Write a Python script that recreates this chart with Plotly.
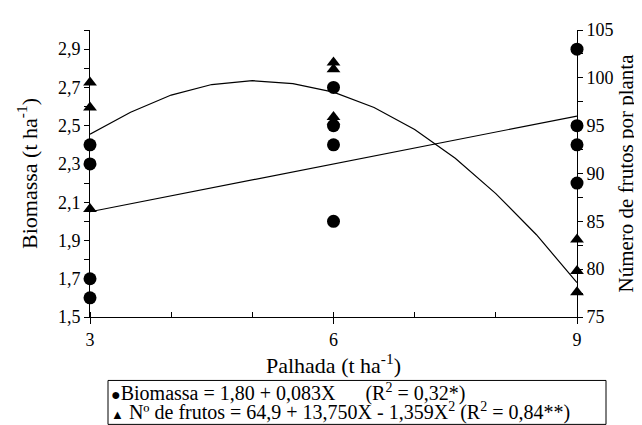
import plotly.graph_objects as go

# Biomassa (left axis, t/ha)
bio_x = [3, 3, 3, 3, 6, 6, 6, 6, 9, 9, 9, 9]
bio_y = [2.4, 2.3, 1.7, 1.6, 2.7, 2.5, 2.4, 2.0, 2.9, 2.5, 2.4, 2.2]
# Biomassa fitted line
bio_fit_x = [3, 9]
bio_fit_y = [2.05, 2.55]

# Numero de frutos (right axis)
fr_x = [3, 3, 3, 6, 6, 6, 6, 9, 9, 9]
fr_y = [99.5, 96.9, 86.3, 101.6, 100.9, 95.9, 95.4, 83.1, 79.8, 77.6]
# Frutos fitted curve
fr_fit_x = [3, 3.5, 4, 4.5, 5, 5.5, 6, 6.5, 7, 7.5, 8, 8.5, 9]
fr_fit_y = [94.1, 96.4, 98.2, 99.3, 99.7, 99.4, 98.5, 96.9, 94.6, 91.6, 87.9, 83.6, 78.6]

x_ticks = [3, 6, 9]

NB = "&nbsp;"
legend_lines = [
    '<span style="font-size:16px">●</span>Biomassa = 1,80 + 0,083X' + NB * 6 + "(R<sup>2</sup> = 0,32*)",
    '<span style="font-size:13px">▲</span> Nº de frutos = 64,9 + 13,750X - 1,359X<sup>2</sup> (R<sup>2</sup> = 0,84**)',
]

FONT = "Times New Roman, Liberation Serif, serif"
TICKF = dict(family=FONT, size=18, color="black")
TITLEF = dict(family=FONT, size=22, color="black")

fig = go.Figure()
fig.add_trace(go.Scatter(x=bio_fit_x, y=bio_fit_y, mode="lines",
                         line=dict(color="black", width=1.2), yaxis="y"))
fig.add_trace(go.Scatter(x=fr_fit_x, y=fr_fit_y, mode="lines",
                         line=dict(color="black", width=1.2), yaxis="y2"))
fig.add_trace(go.Scatter(x=bio_x, y=bio_y, mode="markers", cliponaxis=False,
                         marker=dict(symbol="circle", size=13, color="black"), yaxis="y"))
fig.add_trace(go.Scatter(x=fr_x, y=fr_y, mode="markers", cliponaxis=False,
                         marker=dict(symbol="triangle-up", size=12, color="black"), yaxis="y2"))

fig.update_layout(
    width=642, height=425,
    margin=dict(l=82, r=73, t=15, b=116),
    plot_bgcolor="white", paper_bgcolor="white",
    showlegend=False,
    separators=",.",
    font=dict(family=FONT, size=18, color="black"),
    xaxis=dict(range=[3, 9], tickvals=x_ticks, ticks="outside", ticklen=6,
               tickcolor="black", showline=True, linecolor="black", linewidth=1,
               showgrid=False, zeroline=False, tickfont=TICKF,
               minor=dict(ticks="inside", dtick=1, tick0=3, ticklen=5, tickcolor="black"),
               title=dict(text="Palhada (t ha<sup>-1</sup>)", font=TITLEF, standoff=2)),
    yaxis=dict(range=[1.5, 3.0], tick0=1.5, dtick=0.2, tickformat=".1f",
               ticks="outside", ticklen=5, tickcolor="black", tickfont=TICKF,
               showline=True, linecolor="black", linewidth=1,
               showgrid=False, zeroline=False,
               minor=dict(ticks="outside", tick0=1.5, dtick=0.1, ticklen=5, tickcolor="black"),
               title=dict(text="Biomassa (t ha<sup>-1</sup>)", font=TITLEF, standoff=14)),
    yaxis2=dict(range=[75, 105], tick0=75, dtick=5, overlaying="y", side="right",
                ticks="outside", ticklen=5, tickcolor="black", tickfont=TICKF,
                showline=True, linecolor="black", linewidth=1,
                showgrid=False, zeroline=False,
                minor=dict(ticks="outside", tick0=75, dtick=2.5, ticklen=5, tickcolor="black"),
                title=dict(text="Número de frutos por planta", font=dict(family=FONT, size=21, color="black"),
                           standoff=2)),
)

# legend box (paper coords computed from pixel frame of plot area)
def px(xp):
    return (xp - 82) / 487

def py(yp):
    return (309 - yp) / 294

fig.add_shape(type="rect", xref="paper", yref="paper",
              x0=px(100), x1=px(598), y0=py(374), y1=py(419),
              line=dict(color="black", width=1))
for i, t in enumerate(legend_lines):
    fig.add_annotation(xref="paper", yref="paper", x=px(101), y=py(386 + 20 * i),
                       xanchor="left", yanchor="middle", align="left", showarrow=False,
                       text=t, font=dict(family=FONT, size=20, color="black"))

fig.write_html("out.html")
